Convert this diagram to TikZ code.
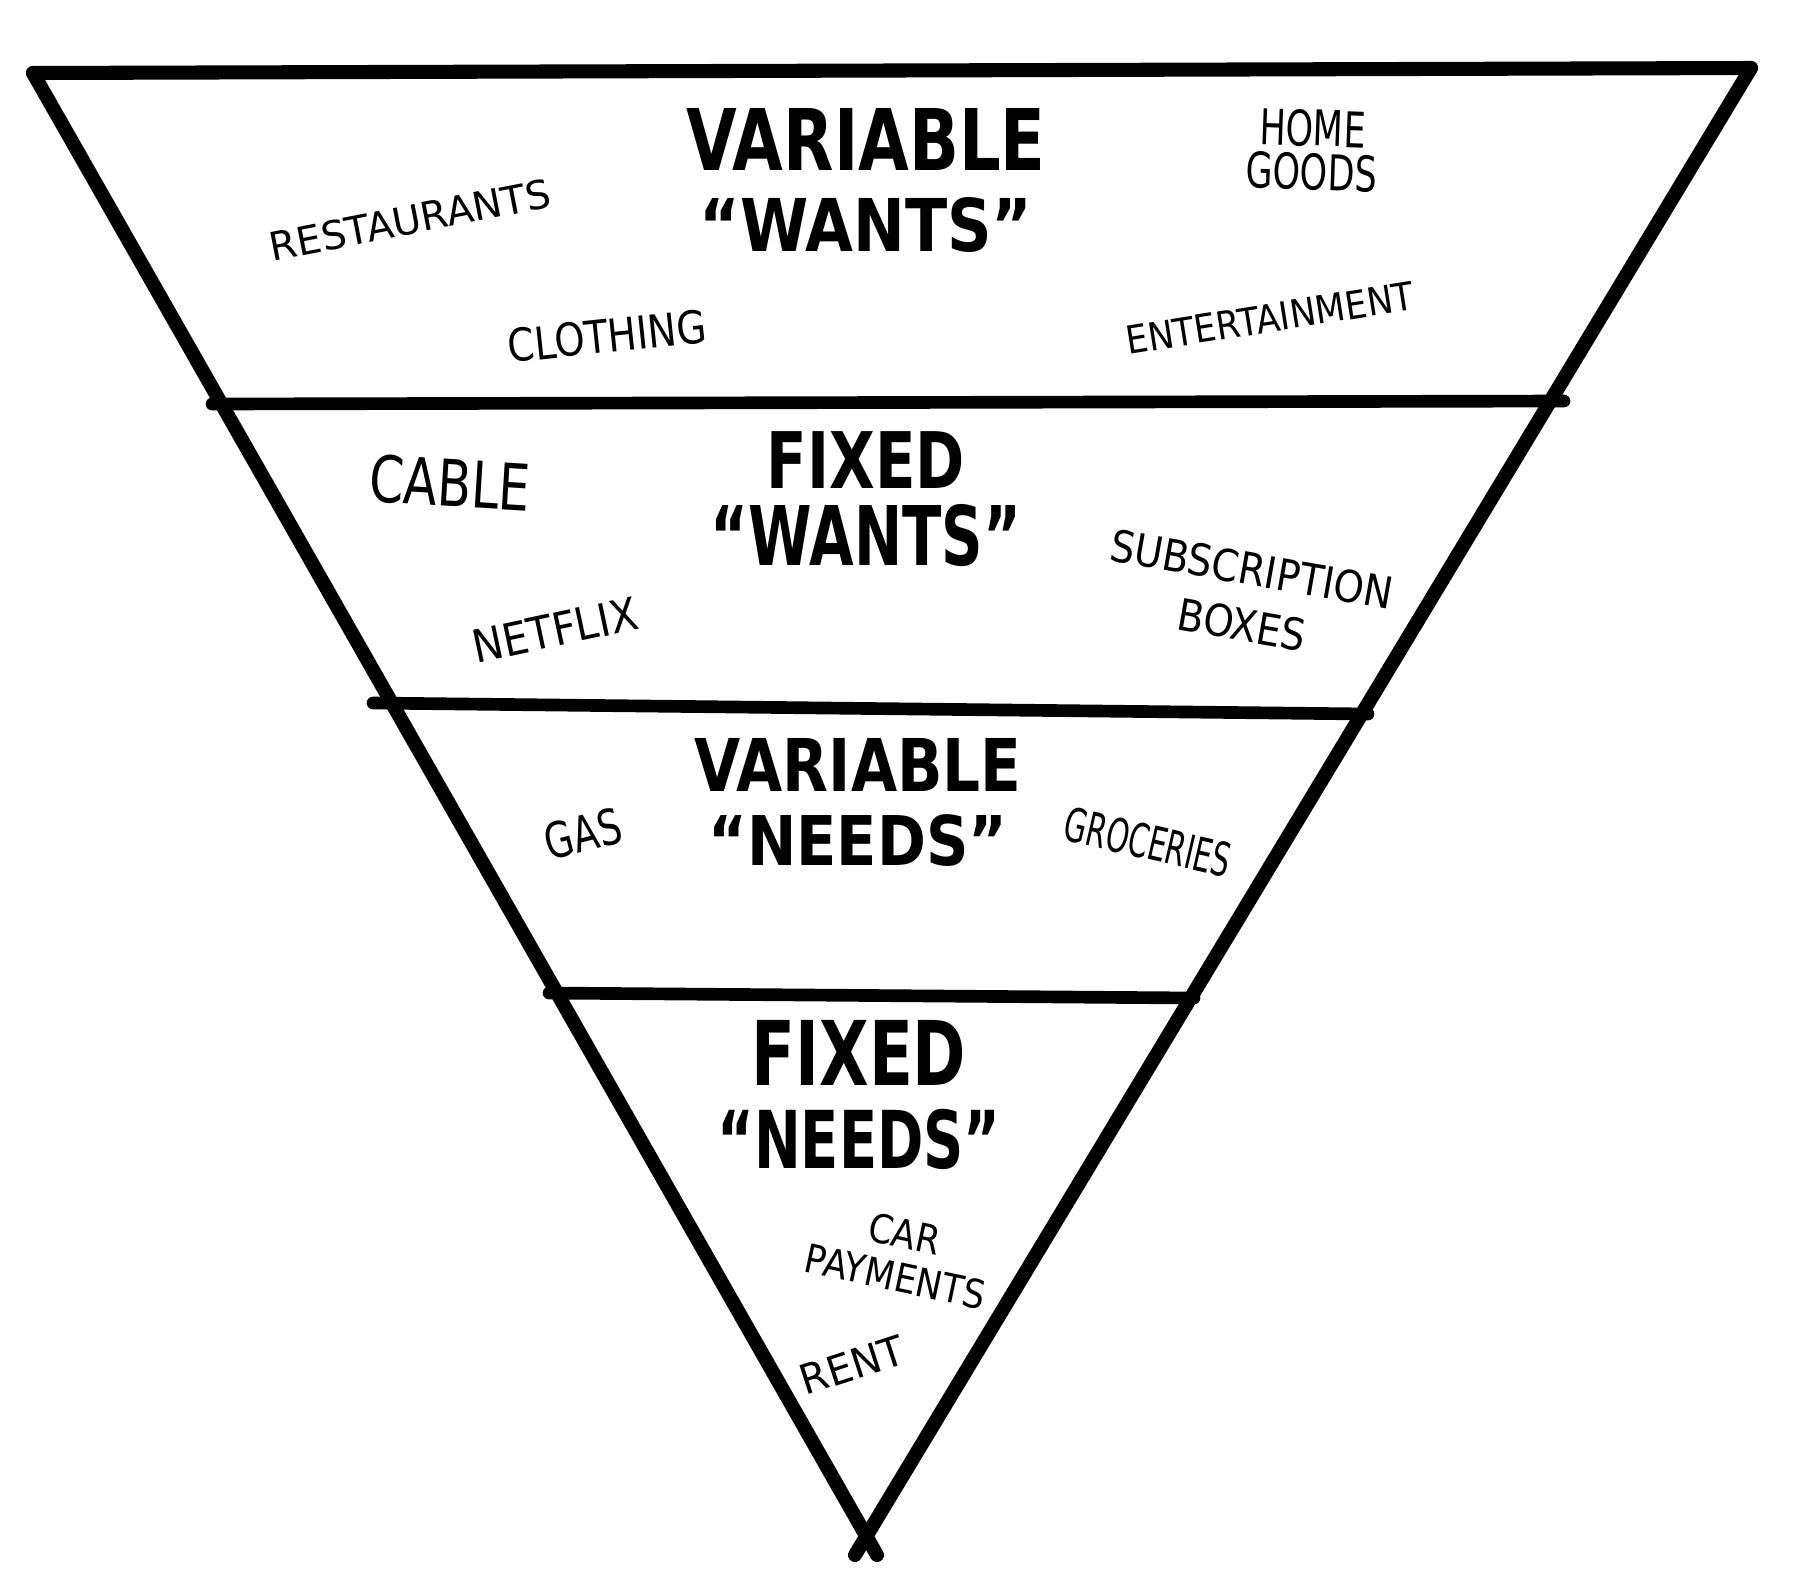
\documentclass[tikz,border=0pt]{standalone}
\usepackage{fontspec}
\setmainfont{DejaVu Sans}
\usetikzlibrary{positioning}

\begin{document}
\begin{tikzpicture}[x=0.01cm, y=-0.01cm, line cap=round, line join=round]
    % Stili
    \tikzstyle{side}=[line width=4pt, black]
    \tikzstyle{band}=[line width=3.6pt, black]
    \tikzset{title/.style={font=\bfseries\fontsize{#1}{#1}\selectfont, inner sep=0pt},
             item/.style 2 args={font=\fontsize{#1}{#2}\selectfont, inner sep=0pt, align=center}}

    \useasboundingbox (0,0) rectangle (1800,1581);

    % Vertici
    \coordinate (tl) at (33,73);
    \coordinate (tr) at (1751,68);
    \coordinate (lend) at (877,1555);
    \coordinate (rend) at (855,1555);
    \coordinate (b1l) at (212,404);
    \coordinate (b1r) at (1564,401);
    \coordinate (b2l) at (373,703);
    \coordinate (b2r) at (1368,714);
    \coordinate (b3l) at (549,993);
    \coordinate (b3r) at (1194,998);

    % Triangolo
    \draw [side] (tl) -- (tr);
    \draw [side] (tl) -- (lend);
    \draw [side] (tr) -- (rend);
    \draw [band] (b1l) -- (b1r);
    \draw [band] (b2l) -- (b2r);
    \draw [band] (b3l) -- (b3r);

    % Titoli
    \node (vw1) [title=24.2, xscale=0.77] at (866,139) {VARIABLE};
    \node (vw2) [title=20.7, xscale=0.85, below=0.26cm of vw1] {“WANTS”};
    \node (fw1) [title=22.2, xscale=0.76] at (866,460) {FIXED};
    \node (fw2) [title=23.4, xscale=0.70, below=0.15cm of fw1] {“WANTS”};
    \node (vn1) [title=20.7, xscale=0.82] at (858,765) {VARIABLE};
    \node (vn2) [title=19.5, xscale=0.86, below=0.22cm of vn1] {“NEEDS”};
    \node (fn1) [title=25.4, xscale=0.72] at (859,1053) {FIXED};
    \node (fn2) [title=22.7, xscale=0.70, below=0.22cm of fn1] {“NEEDS”};

    % Voci
    \node (restaurants) [item={11.2}{12}, rotate=11] at (410,220) {RESTAURANTS};
    \node (clothing) [item={12.9}{14}, rotate=6, xscale=0.85] at (607,336) {CLOTHING};
    \node (homegoods) [item={14}{12.5}, rotate=-2, xscale=0.71] at (1312,150) {HOME\\GOODS};
    \node (entertainment) [item={11}{12}, rotate=9, xscale=0.9] at (1270,318) {ENTERTAINMENT};
    \node (cable) [item={18.3}{19}, rotate=-3.5, xscale=0.77] at (450,483) {CABLE};
    \node (netflix) [item={12.9}{14}, rotate=12, xscale=0.9] at (555,630) {NETFLIX};
    \node (boxes) [item={12.5}{16}, rotate=-10, xscale=0.88] at (1247,597) {SUBSCRIPTION\\BOXES};
    \node (gas) [item={14}{15}, rotate=14, xscale=0.75] at (583,834) {GAS};
    \node (groceries) [item={13.3}{14}, rotate=-13, xscale=0.62] at (1148,842) {GROCERIES};
    \node (carpay) [item={11.3}{12.5}, rotate=-12, xscale=0.88] at (900,1255) {CAR\\PAYMENTS};
    \node (rent) [item={11.7}{12}, rotate=18, xscale=0.97] at (852,1365) {RENT};

\end{tikzpicture}
\end{document}
